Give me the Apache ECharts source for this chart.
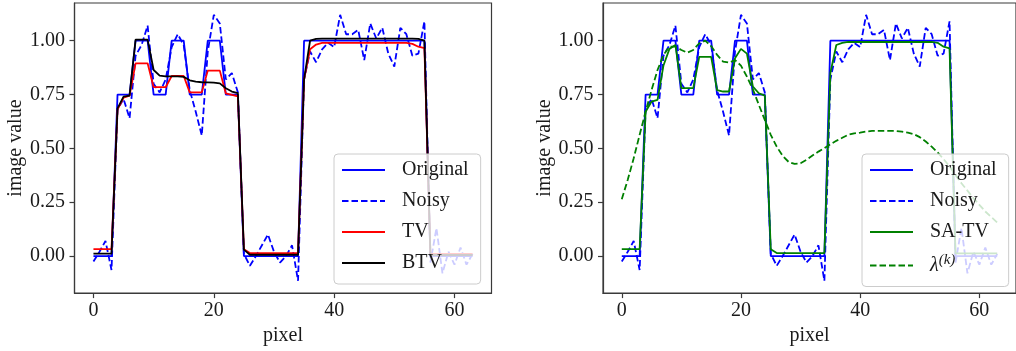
<!DOCTYPE html>
<html>
<head>
<meta charset="utf-8">
<script src="https://cdn.jsdelivr.net/npm/echarts@6/dist/echarts.min.js"></script>
<style>
  html, body { margin: 0; padding: 0; background: #ffffff; }
  #chart { width: 1016px; height: 351px; }
</style>
</head>
<body>
<div id="chart"></div>
<script>
// pixel index along the 1-D signal
const pixel = Array.from({ length: 64 }, (_, i) => i);

// ground-truth piecewise-constant signal
const original = [
  0, 0, 0, 0, 0.75, 0.75, 0.75, 1, 1, 1,
  0.75, 0.75, 0.75, 1, 1, 1, 0.75, 0.75, 0.75, 1,
  1, 1, 0.75, 0.75, 0.75, 0, 0, 0, 0, 0,
  0, 0, 0, 0, 0, 1, 1, 1, 1, 1,
  1, 1, 1, 1, 1, 1, 1, 1, 1, 1,
  1, 1, 1, 1, 1, 1, 0, 0, 0, 0,
  0, 0, 0, 0
];

// noisy observation
const noisy = [
  -0.025, 0.02, 0.07, -0.065, 0.68, 0.73, 0.64, 0.93, 0.98, 1.07,
  0.80, 0.76, 0.82, 0.97, 1.03, 0.98, 0.77, 0.67, 0.56, 0.95,
  1.12, 1.08, 0.82, 0.85, 0.76, 0.01, -0.045, 0.0, 0.05, 0.10,
  0.02, -0.03, 0.0, 0.05, -0.115, 0.82, 0.95, 0.90, 0.96, 0.99,
  0.97, 1.12, 1.03, 1.03, 1.05, 0.91, 1.08, 1.01, 1.06, 0.94,
  0.88, 1.06, 1.03, 0.93, 0.94, 1.09, -0.03, 0.13, -0.08, 0.02,
  -0.04, 0.04, -0.04, 0.01
];

// total-variation reconstruction
const tv = [
  0.032, 0.032, 0.032, 0.032, 0.68, 0.735, 0.745, 0.895, 0.895, 0.895,
  0.784, 0.784, 0.784, 0.836, 0.836, 0.836, 0.76, 0.76, 0.76, 0.861,
  0.861, 0.861, 0.755, 0.748, 0.742, 0.032, 0.014, 0.014, 0.014, 0.014,
  0.014, 0.014, 0.014, 0.014, 0.014, 0.82, 0.96, 0.982, 0.99, 0.99,
  0.99, 0.99, 0.99, 0.99, 0.99, 0.99, 0.99, 0.99, 0.99, 0.99,
  0.99, 0.99, 0.99, 0.985, 0.972, 0.966, 0.01, 0.01, 0.01, 0.01,
  0.01, 0.01, 0.01, 0.01
];

// bilateral total-variation reconstruction
const btv = [
  0.011, 0.011, 0.011, 0.011, 0.686, 0.74, 0.745, 1.005, 1.005, 1.005,
  0.864, 0.838, 0.834, 0.834, 0.834, 0.832, 0.816, 0.81, 0.807, 0.806,
  0.805, 0.802, 0.779, 0.764, 0.756, 0.03, 0.006, 0.006, 0.006, 0.006,
  0.006, 0.006, 0.006, 0.006, 0.006, 0.82, 1.0, 1.008, 1.01, 1.01,
  1.01, 1.01, 1.01, 1.01, 1.01, 1.01, 1.01, 1.01, 1.01, 1.01,
  1.01, 1.01, 1.01, 1.01, 1.008, 1.0, 0.005, 0.005, 0.005, 0.005,
  0.005, 0.005, 0.005, 0.005
];

// spatially adaptive TV reconstruction
const satv = [
  0.032, 0.032, 0.032, 0.032, 0.67, 0.717, 0.725, 0.885, 0.962, 0.98,
  0.78, 0.78, 0.78, 0.925, 0.925, 0.925, 0.77, 0.764, 0.764, 0.918,
  0.962, 0.94, 0.787, 0.756, 0.745, 0.032, 0.014, 0.014, 0.014, 0.014,
  0.014, 0.014, 0.014, 0.014, 0.014, 0.85, 0.98, 0.99, 0.994, 0.994,
  0.994, 0.994, 0.994, 0.994, 0.994, 0.994, 0.994, 0.994, 0.994, 0.994,
  0.994, 0.994, 0.994, 0.99, 0.972, 0.964, 0.012, 0.012, 0.012, 0.012,
  0.012, 0.012, 0.012, 0.012
];

// regularisation weight lambda^(k) per pixel
const lambdaK = [
  0.264, 0.354, 0.454, 0.563, 0.671, 0.771, 0.864, 0.934, 0.972, 0.972,
  0.957, 0.944, 0.957, 0.988, 1.0, 0.975, 0.934, 0.903, 0.898, 0.91,
  0.884, 0.833, 0.774, 0.702, 0.632, 0.563, 0.508, 0.465, 0.437, 0.428,
  0.431, 0.447, 0.467, 0.485, 0.501, 0.519, 0.535, 0.549, 0.563, 0.570,
  0.573, 0.578, 0.581, 0.581, 0.581, 0.581, 0.581, 0.578, 0.573, 0.566,
  0.552, 0.532, 0.508, 0.481, 0.450, 0.416, 0.377, 0.338, 0.304, 0.269,
  0.238, 0.207, 0.181, 0.156
];

const xTicks = [0, 20, 40, 60];
const yTicks = [0, 0.25, 0.5, 0.75, 1.0];

const FONT = '"Liberation Serif", "Times New Roman", serif';
const TEXT = '#1a1a1a';
const SPINE = '#3a3a3a';

function pairs(values) {
  return pixel.map((p, i) => [p, values[i]]);
}

function line(name, values, color, dashed, idx) {
  return {
    type: 'line',
    name: name,
    xAxisIndex: idx,
    yAxisIndex: idx,
    data: pairs(values),
    symbol: 'none',
    silent: true,
    animation: false,
    lineStyle: { color: color, width: 1.8, type: dashed ? [6.5, 3] : 'solid' },
    itemStyle: { color: color }
  };
}

function xAxis(idx) {
  return {
    type: 'value', gridIndex: idx, min: -3.15, max: 66.15,
    name: 'pixel', nameLocation: 'middle', nameGap: 31,
    nameTextStyle: { fontFamily: FONT, fontSize: 20, color: TEXT },
    axisLine: { show: true, onZero: false, lineStyle: { color: SPINE, width: 1.2 } },
    axisTick: { show: true, customValues: xTicks, length: 5, lineStyle: { color: SPINE, width: 1.2 } },
    axisLabel: { customValues: xTicks, margin: 8, fontFamily: FONT, fontSize: 20, color: TEXT },
    splitLine: { show: false }
  };
}

function yAxis(idx) {
  return {
    type: 'value', gridIndex: idx, min: -0.172, max: 1.175,
    name: 'image value', nameLocation: 'middle', nameGap: 41,
    nameTextStyle: { fontFamily: FONT, fontSize: 20, color: TEXT },
    axisLine: { show: true, onZero: false, lineStyle: { color: SPINE, width: 1.2 } },
    axisTick: { show: true, customValues: yTicks, length: 5, lineStyle: { color: SPINE, width: 1.2 } },
    axisLabel: {
      customValues: yTicks, margin: 9.5, fontFamily: FONT, fontSize: 20, color: TEXT,
      formatter: v => v.toFixed(2)
    },
    splitLine: { show: false }
  };
}

function legend(names, left) {
  return {
    data: names,
    orient: 'vertical',
    left: left, top: 154,
    padding: [6, 12, 11, 7],
    itemWidth: 43, itemHeight: 14, itemGap: 11,
    backgroundColor: 'rgba(255,255,255,0.8)',
    borderColor: '#cccccc', borderWidth: 1, borderRadius: 4,
    selectedMode: false,
    // line-only keys: hide the marker drawn in the middle of each key
    itemStyle: { opacity: 0 },
    textStyle: {
      fontFamily: FONT, fontSize: 20, color: TEXT, lineHeight: 20, padding: [0, 0, 0, 12],
      rich: {
        l: { fontFamily: FONT, fontSize: 20, fontStyle: 'italic', color: TEXT },
        s: { fontFamily: FONT, fontSize: 15, fontStyle: 'italic', color: TEXT, padding: [0, 0, 10, 0] }
      }
    },
    formatter: n => (n === 'lambda' ? '{l|λ}{s|(k)}' : n)
  };
}

const chart = echarts.init(document.getElementById('chart'), null, { renderer: 'canvas' });
chart.setOption({
  backgroundColor: '#ffffff',
  animation: false,
  grid: [
    { left: 74.5, top: 3, width: 417, height: 290.3, show: true, borderColor: SPINE, borderWidth: 1.2, containLabel: false },
    { left: 603, top: 3, width: 417, height: 290.3, show: true, borderColor: SPINE, borderWidth: 1.2, containLabel: false }
  ],
  xAxis: [xAxis(0), xAxis(1)],
  yAxis: [yAxis(0), yAxis(1)],
  legend: [
    legend(['Original', 'Noisy', 'TV', 'BTV'], 334),
    legend(['Original', 'Noisy', 'SA-TV', 'lambda'], 862)
  ],
  series: [
    line('Original', original, '#0000ff', false, 0),
    line('Noisy', noisy, '#0000ff', true, 0),
    line('TV', tv, '#ff0000', false, 0),
    line('BTV', btv, '#000000', false, 0),
    line('Original', original, '#0000ff', false, 1),
    line('Noisy', noisy, '#0000ff', true, 1),
    line('SA-TV', satv, '#008000', false, 1),
    line('lambda', lambdaK, '#008000', true, 1)
  ]
});
</script>
</body>
</html>
